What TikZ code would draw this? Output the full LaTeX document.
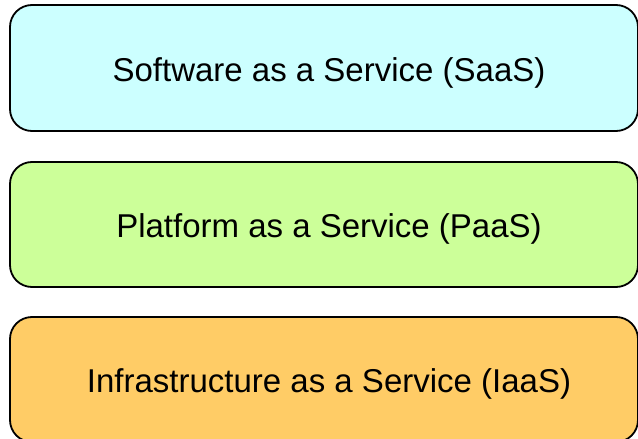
\documentclass[tikz,border=0pt]{standalone}
\usepackage{fontspec}
\setmainfont{Liberation Sans}
\definecolor{saas}{HTML}{CCFFFF}
\definecolor{paas}{HTML}{CCFF99}
\definecolor{iaas}{HTML}{FFCC66}
\tikzset{
  layerbox/.style={draw=black, line width=1.8pt, rounded corners=22pt},
  layertext/.style={font=\fontsize{33}{40}\selectfont, inner sep=0pt, anchor=base}
}
\begin{document}
\begin{tikzpicture}[x=1pt,y=-1pt]
\useasboundingbox (0,0) rectangle (638,439);
\begin{scope}
\clip (0,0) rectangle (638,439);
\draw[layerbox, fill=saas] (10,5) rectangle (638,131);
\draw[layerbox, fill=paas] (10,162) rectangle (638,287);
\draw[layerbox, fill=iaas] (10,317) rectangle (638,442);
\end{scope}
\node[layertext] (saas) at (329,81) {Software as a Service (SaaS)};
\node[layertext] (paas) at (329,237) {Platform as a Service (PaaS)};
\node[layertext] (iaas) at (329,392) {Infrastructure as a Service (IaaS)};
\end{tikzpicture}
\end{document}
